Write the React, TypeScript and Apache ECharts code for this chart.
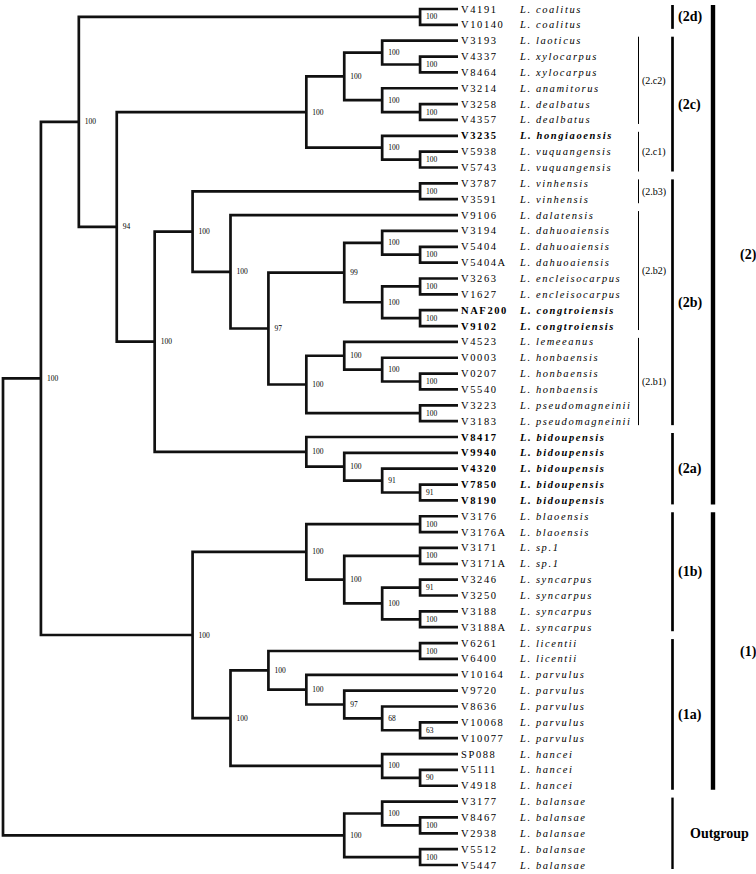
import React, { useEffect, useRef } from 'react';
import * as echarts from 'echarts';

// ---------- leaves (top to bottom) ----------
const leafCodes = [
  'V4191', 'V10140', 'V3193', 'V4337', 'V8464', 'V3214', 'V3258', 'V4357', 'V3235', 'V5938',
  'V5743', 'V3787', 'V3591', 'V9106', 'V3194', 'V5404', 'V5404A', 'V3263', 'V1627', 'NAF200',
  'V9102', 'V4523', 'V0003', 'V0207', 'V5540', 'V3223', 'V3183', 'V8417', 'V9940', 'V4320',
  'V7850', 'V8190', 'V3176', 'V3176A', 'V3171', 'V3171A', 'V3246', 'V3250', 'V3188', 'V3188A',
  'V6261', 'V6400', 'V10164', 'V9720', 'V8636', 'V10068', 'V10077', 'SP088', 'V5111', 'V4918',
  'V3177', 'V8467', 'V2938', 'V5512', 'V5447',
];
const leafSpecies = [
  'L. coalitus', 'L. coalitus', 'L. laoticus', 'L. xylocarpus', 'L. xylocarpus', 'L. anamitorus',
  'L. dealbatus', 'L. dealbatus', 'L. hongiaoensis', 'L. vuquangensis', 'L. vuquangensis',
  'L. vinhensis', 'L. vinhensis', 'L. dalatensis', 'L. dahuoaiensis', 'L. dahuoaiensis',
  'L. dahuoaiensis', 'L. encleisocarpus', 'L. encleisocarpus', 'L. congtroiensis', 'L. congtroiensis',
  'L. lemeeanus', 'L. honbaensis', 'L. honbaensis', 'L. honbaensis', 'L. pseudomagneinii',
  'L. pseudomagneinii', 'L. bidoupensis', 'L. bidoupensis', 'L. bidoupensis', 'L. bidoupensis',
  'L. bidoupensis', 'L. blaoensis', 'L. blaoensis', 'L. sp.1', 'L. sp.1', 'L. syncarpus',
  'L. syncarpus', 'L. syncarpus', 'L. syncarpus', 'L. licentii', 'L. licentii', 'L. parvulus',
  'L. parvulus', 'L. parvulus', 'L. parvulus', 'L. parvulus', 'L. hancei', 'L. hancei', 'L. hancei',
  'L. balansae', 'L. balansae', 'L. balansae', 'L. balansae', 'L. balansae',
];
const boldLeaves = ['V3235', 'NAF200', 'V9102', 'V8417', 'V9940', 'V4320', 'V7850', 'V8190'];

// ---------- topology (Newick; internal labels = bootstrap support) ----------
const clade2d = '(V4191,V10140)100';
const clade2c2 = '((V3193,(V4337,V8464)100)100,(V3214,(V3258,V4357)100)100)100';
const clade2c1 = '(V3235,(V5938,V5743)100)100';
const clade2c = `(${clade2c2},${clade2c1})100`;
const clade2b3 = '(V3787,V3591)100';
const cladeDahuo = '((V3194,(V5404,V5404A)100)100,((V3263,V1627)100,(NAF200,V9102)100)100)99';
const clade2b1 = '((V4523,(V0003,(V0207,V5540)100)100)100,(V3223,V3183)100)100';
const clade2b = `(${clade2b3},(V9106,(${cladeDahuo},${clade2b1})97)100)100`;
const clade2a = '(V8417,(V9940,(V4320,(V7850,V8190)91)91)100)100';
const clade2 = `(${clade2d},(${clade2c},(${clade2b},${clade2a})100)94)100`;
const clade1b = '((V3176,V3176A)100,((V3171,V3171A)100,((V3246,V3250)91,(V3188,V3188A)100)100)100)100';
const clade1a = '(((V6261,V6400)100,(V10164,(V9720,(V8636,(V10068,V10077)63)68)97)100)100,(SP088,(V5111,V4918)90)100)100';
const clade1 = `(${clade1b},${clade1a})100`;
const outgroup = '((V3177,(V8467,V2938)100)100,(V5512,V5447)100)100';
const treeNewick = `((${clade2},${clade1})100,${outgroup});`;

// ---------- clade brackets on the right ----------
const cladeNames = ['(2d)', '(2c)', '(2.c2)', '(2.c1)', '(2.b3)', '(2.b2)', '(2.b1)', '(2b)', '(2a)', '(2)', '(1b)', '(1a)', '(1)', 'Outgroup'];
const cladeFirst = [0, 2, 2, 8, 11, 13, 21, 11, 27, 0, 32, 40, 32, 50];
const cladeLast = [1, 10, 7, 10, 12, 20, 26, 26, 31, 31, 39, 49, 49, 54];
const cladeRank = [1, 1, 0, 0, 0, 0, 0, 1, 1, 2, 1, 1, 2, 3];

type TNode = { name?: string; support?: number; children?: TNode[]; h: number; y: number };

function parseNewick(s: string): TNode {
  let i = 0;
  const stop = ',();';
  const read = (): TNode => {
    if (s[i] === '(') {
      i++;
      const children = [read()];
      while (s[i] === ',') {
        i++;
        children.push(read());
      }
      i++;
      let lab = '';
      while (i < s.length && !stop.includes(s[i])) lab += s[i++];
      return { children, support: lab ? Number(lab) : -1, h: 0, y: 0 };
    }
    let name = '';
    while (i < s.length && !stop.includes(s[i])) name += s[i++];
    return { name, h: 0, y: 0 };
  };
  return read();
}

function layout(n: TNode) {
  if (!n.children) {
    n.h = 0;
    n.y = leafCodes.indexOf(n.name as string);
    return;
  }
  n.children.forEach(layout);
  n.h = Math.max(...n.children.map((c) => c.h)) + 1;
  n.y = (n.children[0].y + n.children[n.children.length - 1].y) / 2;
}

const SERIF = "'Liberation Serif', 'Times New Roman', serif";
const INK = '#000000';

export default function App() {
  const ref = useRef<HTMLDivElement>(null);
  useEffect(() => {
    const el = ref.current;
    if (!el) return;
    const root = parseNewick(treeNewick);
    layout(root);
    const H = root.h;
    const branchRows: number[][] = [];
    const walk = (n: TNode) => {
      if (!n.children) return;
      const a = n.children[0];
      const b = n.children[n.children.length - 1];
      branchRows.push([H - n.h, n.y, H - a.h, a.y, H - b.h, b.y, n.support ?? -1]);
      n.children.forEach(walk);
    };
    walk(root);

    const leafRows = leafCodes.map((_, i) => [H, i]);
    const cladeRows = cladeNames.map((_, i) => [cladeFirst[i], cladeLast[i], cladeRank[i]]);

    const barOffset = [180.5, 214.5, 255, 214.5];
    const barWidth = [1, 2.7, 4.4, 2.4];
    const labelOffset = [3.5, 5.5, 27, 17.5];

    const chart = echarts.init(el, undefined, { renderer: 'svg' });
    chart.setOption({
      animation: false,
      backgroundColor: '#ffffff',
      grid: { left: 3, right: 298, top: 9, bottom: 9 },
      xAxis: { type: 'value', min: 0, max: H, show: false },
      yAxis: { type: 'value', min: 0, max: leafCodes.length - 1, inverse: true, show: false },
      series: [
        {
          type: 'custom',
          name: 'branches',
          coordinateSystem: 'cartesian2d',
          dimensions: ['d', 'y', 'ad', 'ay', 'bd', 'by', 'support'],
          encode: { x: 0, y: 1 },
          data: branchRows,
          silent: true,
          renderItem: (params: any, api: any) => {
            const d = api.value(0);
            const y = api.value(1);
            const a = api.coord([api.value(2), api.value(3)]);
            const b = api.coord([api.value(4), api.value(5)]);
            const pa = api.coord([d, api.value(3)]);
            const pb = api.coord([d, api.value(5)]);
            const p = api.coord([d, y]);
            const sup = api.value(6);
            const children: any[] = [
              {
                type: 'polyline',
                shape: { points: [a, pa, pb, b] },
                style: { stroke: '#111111', lineWidth: 2.7, fill: null, lineJoin: 'miter', lineCap: 'butt' },
              },
            ];
            if (sup >= 0) {
              children.push({
                type: 'text',
                x: p[0] + 6,
                y: p[1],
                style: {
                  text: String(sup),
                  fontSize: 7.5,
                  fontFamily: SERIF,
                  fill: INK,
                  align: 'left',
                  verticalAlign: 'middle',
                },
              });
            }
            return { type: 'group', children };
          },
        },
        {
          type: 'custom',
          name: 'leaves',
          coordinateSystem: 'cartesian2d',
          encode: { x: 0, y: 1 },
          data: leafRows,
          silent: true,
          renderItem: (params: any, api: any) => {
            const i = params.dataIndex;
            const p = api.coord([api.value(0), api.value(1)]);
            const bold = boldLeaves.includes(leafCodes[i]);
            const text = bold
              ? `{cb|${leafCodes[i]}}{sb|${leafSpecies[i]}}`
              : `{c|${leafCodes[i]}}{s|${leafSpecies[i]}}`;
            const base = { fontFamily: SERIF, fontSize: 10.5, fill: INK };
            return {
              type: 'text',
              x: p[0] + 3,
              y: p[1],
              style: {
                text,
                align: 'left',
                verticalAlign: 'middle',
                rich: {
                  c: { ...base, width: 59 },
                  cb: { ...base, width: 59, fontWeight: 'bold' },
                  s: { ...base, fontStyle: 'italic' },
                  sb: { ...base, fontStyle: 'italic', fontWeight: 'bold' },
                },
              },
            };
          },
        },
        {
          type: 'custom',
          name: 'clades',
          coordinateSystem: 'cartesian2d',
          encode: { y: [0, 1] },
          data: cladeRows,
          silent: true,
          renderItem: (params: any, api: any) => {
            const i = params.dataIndex;
            const rank = api.value(2);
            const top = api.coord([H, api.value(0)]);
            const bot = api.coord([H, api.value(1)]);
            const x = top[0] + barOffset[rank];
            const y1 = top[1] - 4;
            const y2 = bot[1] + 4;
            const small = rank === 0;
            return {
              type: 'group',
              children: [
                {
                  type: 'line',
                  shape: { x1: x, y1, x2: x, y2 },
                  style: { stroke: INK, lineWidth: barWidth[rank] },
                },
                {
                  type: 'text',
                  x: x + labelOffset[rank],
                  y: (y1 + y2) / 2,
                  style: {
                    text: cladeNames[i],
                    fontFamily: SERIF,
                    fontSize: small ? 10 : 14,
                    fontWeight: small ? 'normal' : 'bold',
                    fill: INK,
                    align: 'left',
                    verticalAlign: 'middle',
                  },
                },
              ],
            };
          },
        },
      ],
    });

    const leafTexts = new Set<string>([...leafCodes, ...leafSpecies]);
    const applySpacing = () => {
      el.querySelectorAll('text').forEach((t) => {
        const s = (t.textContent || '').trim();
        if (leafTexts.has(s)) t.setAttribute('letter-spacing', '1.6');
      });
    };
    applySpacing();
    chart.on('finished', applySpacing);
    const timer = window.setTimeout(applySpacing, 30);
    return () => {
      window.clearTimeout(timer);
      chart.dispose();
    };
  }, []);

  return (
    <div
      ref={ref}
      style={{ position: 'fixed', left: 0, top: 0, width: 756, height: 874, background: '#ffffff' }}
    />
  );
}
